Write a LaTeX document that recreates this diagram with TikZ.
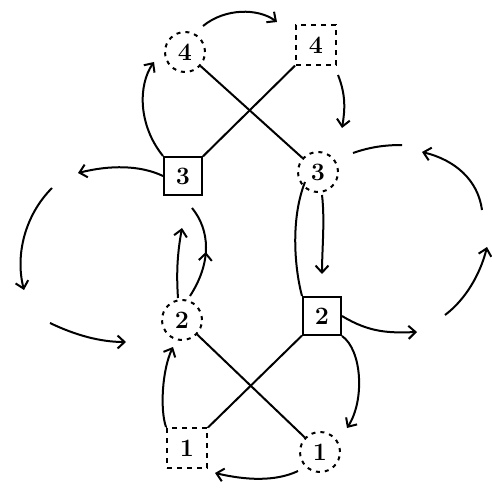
\documentclass[tikz,border=0pt]{standalone}
\usetikzlibrary{arrows.meta,decorations.markings}
\begin{document}
\begin{tikzpicture}[x=1pt,y=-1pt,
  every node/.style={font=\fontsize{25}{25}\selectfont\bfseries, inner sep=0pt},
  solidbox/.style={draw, line width=2pt, minimum size=38pt},
  dashbox/.style={draw, line width=2pt, dash pattern=on 5pt off 5pt, minimum size=40pt},
  dashcirc/.style={draw, circle, line width=2pt, dash pattern=on 4pt off 5pt, minimum size=40pt},
  link/.style={line width=2pt},
  tip/.style={-{Straight Barb[length=7pt,width=13pt,line width=2pt]}},
  arr/.style={link, tip},
  midarr/.style={link, postaction=decorate, decoration={markings, mark=at position 0.5 with {\arrow{Straight Barb[length=7pt,width=13pt,line width=2pt]}}}},
]
\useasboundingbox (0,0) rectangle (492,489);

% nodes
\node[dashcirc] (a4) at (185,52) {4};
\node[dashbox]  (b4) at (316,45) {4};
\node[solidbox] (a3) at (183,176) {3};
\node[dashcirc] (b3) at (318,172) {3};
\node[dashcirc] (a2) at (182,320) {2};
\node[solidbox] (b2) at (322,316) {2};
\node[dashbox]  (a1) at (187,448) {1};
\node[dashcirc] (b1) at (320,452) {1};

% free ends
\coordinate (e44) at (277,22);
\coordinate (e43) at (342,128);
\coordinate (lA) at (78,173);
\coordinate (lB1) at (52,188);
\coordinate (lB2) at (24,290);
\coordinate (lC1) at (50,323);
\coordinate (lC2) at (126,342);
\coordinate (m23) at (182,228);
\coordinate (e32) at (322,274);
\coordinate (rA) at (402,145);
\coordinate (rB1) at (482,210);
\coordinate (rB2) at (422,152);
\coordinate (rC1) at (445,315);
\coordinate (rC2) at (487,247);
\coordinate (rD) at (417,332);
\coordinate (e21) at (347,428);
\coordinate (e11) at (215,473);

% crossing links
\draw[link] (a4) -- (b3);
\draw[link] (b4) -- (a3);
\draw[link] (a2) -- (b1);
\draw[link] (b2) -- (a1);

% top
\draw[arr] (203,26) .. controls (225,8) and (258,8) .. (e44);
\draw[arr] (338,75) .. controls (346,95) and (345,110) .. (e43);
\draw[arr] (a3.north west) .. controls (138,125) and (138,85) .. (154,62);

% left cycle
\draw[arr] (a3.west) .. controls (140,165) and (110,165) .. (lA);
\draw[arr] (lB1) .. controls (25,215) and (15,255) .. (lB2);
\draw[arr] (lC1) .. controls (75,335) and (100,342) .. (lC2);

% between 2 and 3 (left)
\draw[arr] (178,298) .. controls (176,270) and (178,250) .. (m23);
\draw[midarr] (190,296) .. controls (212,262) and (210,230) .. (192,208);

% between 3 and 2 (right)
\draw[link] (305,182) .. controls (290,220) and (295,270) .. (b2.north west);
\draw[arr] (322,195) .. controls (325,220) and (322,250) .. (e32);

% right cycle
\draw[link] (353,153) .. controls (370,147) and (385,145) .. (rA);
\draw[arr] (rB1) .. controls (478,180) and (455,160) .. (rB2);
\draw[arr] (rC1) .. controls (465,300) and (480,275) .. (rC2);
\draw[arr] (b2.east) .. controls (370,333) and (390,333) .. (rD);

% bottom
\draw[arr] (b2.south east) .. controls (362,350) and (365,400) .. (e21);
\draw[arr] (298,471) .. controls (275,482) and (245,480) .. (e11);
\draw[arr] (a1.north west) .. controls (160,410) and (162,370) .. (173,347);
\end{tikzpicture}
\end{document}
